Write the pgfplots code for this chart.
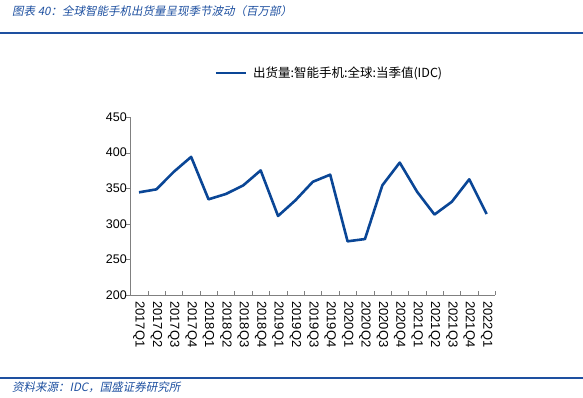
\documentclass[border=0pt]{standalone}
\usepackage{pgfplots}
\pgfplotsset{compat=1.18}
\usepackage{fontspec}
\setmainfont{Liberation Sans}
\newfontfamily\cjk{Noto Sans CJK SC}
\newfontfamily\cjkit[FakeSlant=0.2]{Noto Sans CJK SC}
\definecolor{lineblue}{RGB}{10,70,150}
\definecolor{titleblue}{RGB}{30,80,160}
\definecolor{axgray}{RGB}{128,128,128}
\begin{document}
\begin{tikzpicture}[x=1pt,y=1pt]
\useasboundingbox (0,0) rectangle (583,397);
\node[anchor=base west, text=titleblue, inner sep=0] at (12,381) {\fontsize{11.5}{13}\cjkit 图表 40：全球智能手机出货量呈现季节波动（百万部）};
\draw[titleblue, line width=1.8pt] (0,364) -- (583,364);
\draw[titleblue, line width=1.5pt] (0,19) -- (583,19);
\node[anchor=base west, text=titleblue, inner sep=0] at (12,6) {\fontsize{11.5}{13}\cjkit 资料来源：IDC，国盛证券研究所};
\begin{axis}[
  at={(139pt,102pt)}, anchor=origin,
  scale only axis, width=365pt, height=178pt,
  xmin=-0.5, xmax=20.5, ymin=200, ymax=450,
  ytick={200,250,...,450},
  xtick={0,...,20},
  xticklabels={2017Q1,2017Q2,2017Q3,2017Q4,2018Q1,2018Q2,2018Q3,2018Q4,2019Q1,2019Q2,2019Q3,2019Q4,2020Q1,2020Q2,2020Q3,2020Q4,2021Q1,2021Q2,2021Q3,2021Q4,2022Q1},
  minor xtick={-0.5,0.5,...,20.5},
  major x tick style={draw=none},
  minor x tick style={axgray},
  xtick pos=bottom, ytick pos=left,
  xtick align=inside, ytick align=outside,
  minor tick length=4pt, major tick length=4pt,
  xticklabel shift=5pt,
  yticklabel shift=-4pt,
  x tick label style={rotate=-90, anchor=west, font=\fontsize{13}{13}\selectfont, inner sep=1pt},
  y tick label style={font=\fontsize{12.5}{12}\selectfont},
  /pgf/number format/assume math mode=true,
  axis x line*=bottom, axis y line*=left,
  axis line style={axgray},
  y tick style={axgray},
  tick label style={black},
  legend style={at={(0.2301,1.247)}, anchor=west, draw=none, fill=none, inner sep=0pt, font=\fontsize{12.5}{13}\cjk, legend cell align=left},
  legend image code/.code={\draw[#1, line width=2.6pt] (0pt,0pt) -- (30pt,0pt); \path (34pt,0pt);},
]
\addplot[lineblue, line width=2.6pt, line join=round] coordinates {
(0,344.2) (1,348.4) (2,373) (3,394) (4,334.4) (5,341.9) (6,354) (7,375)
(8,311) (9,333) (10,359) (11,369) (12,275.4) (13,278.6) (14,354) (15,386)
(16,345) (17,313) (18,331) (19,362.5) (20,313.8)};
\addlegendentry{出货量:智能手机:全球:当季值(IDC)}
\end{axis}
\end{tikzpicture}
\end{document}
